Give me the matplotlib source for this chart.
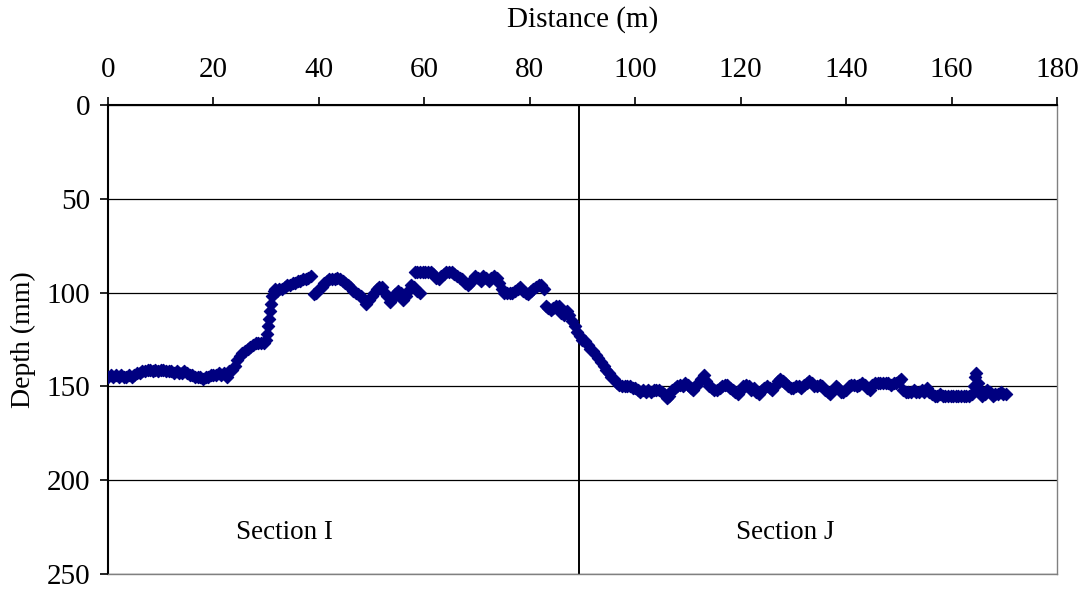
import numpy as np
import matplotlib
matplotlib.use("Agg")
import matplotlib.pyplot as plt

plt.rcParams['font.family'] = ['Liberation Serif', 'DejaVu Serif']

# survey profile: distance along the line (m) and depth below datum (mm)
distance = [
    # flat start
    0, 0.5, 1, 1.5, 2, 2.5, 3, 3.5, 4, 4.5, 5, 5.5, 6, 6.5, 7, 7.5, 8, 8.5, 9, 9.5,
    10, 10.5, 11, 11.5, 12, 12.5, 13, 13.5, 14, 14.5, 15, 15.5, 16, 16.5, 17, 17.5,
    18, 18.5, 19, 19.5, 20, 20.5, 21, 21.5, 22, 22.5, 23,
    # rise
    23.5, 24, 24.5, 25, 25.5, 26, 26.5, 27, 27.5, 28, 28.5, 29, 29.5, 30, 30.2, 30.4,
    30.6, 30.8, 31, 31.2, 31.4, 31.7, 32, 32.5, 33, 33.5, 34, 34.5, 35, 35.5, 36, 36.5,
    37, 37.5, 38, 38.5,
    # hump
    39, 39.5, 40, 40.5, 41, 41.5, 42, 42.5, 43, 43.5, 44, 44.5, 45, 45.5, 46, 46.5,
    47, 47.5, 48, 48.5, 49, 49.5, 50, 50.5, 51, 51.5, 52, 52.5, 53, 53.5, 54, 54.5,
    55, 55.5, 56, 56.5, 57, 57.5, 58, 58.6, 59.1,
    # crest
    58.2, 58.7, 59.2, 59.7, 60.2, 60.7, 61.2, 61.7, 62.2, 62.7, 63.2, 63.7, 64.2, 64.7,
    65.2, 65.7, 66.2, 66.7, 67.2, 67.7, 68.2, 68.7, 69.2, 69.7, 70.2, 70.7, 71.2, 71.7,
    72.2, 72.7, 73.2, 73.7, 74.2, 74.7, 75.2, 75.7, 76.2, 76.7, 77.2, 77.7, 78.2, 78.7,
    79.2, 79.7, 80.2, 80.7, 81.2, 81.7, 82.2, 82.7,
    # fall
    83, 83.5, 84, 84.5, 85, 85.5, 86, 86.5, 87, 87.5, 88, 88.5, 89, 89.5, 90, 90.5,
    91, 91.5, 92, 92.5, 93, 93.5, 94, 94.5, 95, 95.5, 96, 96.5, 97, 97.5,
    # section J flat
    98, 98.5, 99, 99.5, 100, 100.5, 101, 101.5, 102, 102.5, 103, 103.5, 104, 104.5,
    105, 105.5, 106, 106.5, 107, 107.5, 108, 108.5, 109, 109.5, 110, 110.5, 111, 111.5,
    112, 112.5, 113, 113.5, 114, 114.5, 115, 115.5, 116, 116.5, 117, 117.5, 118, 118.5,
    119, 119.5, 120, 120.5, 121, 121.5, 122, 122.5, 123, 123.5, 124, 124.5, 125, 125.5,
    126, 126.5, 127, 127.5, 128, 128.5, 129, 129.5, 130, 130.5, 131, 131.5, 132, 132.5,
    133, 133.5, 134, 134.5, 135, 135.5, 136, 136.5, 137, 137.5, 138, 138.5, 139, 139.5,
    140, 140.5, 141, 141.5, 142, 142.5, 143, 143.5, 144, 144.5, 145, 145.5, 146, 146.5,
    147, 147.5, 148, 148.5, 149, 149.5, 150, 150.5,
    # end
    150.8, 151.3, 151.8, 152.3, 152.8, 153.3, 153.8, 154.3, 154.8, 155.3, 155.8, 156.3,
    156.8, 157.3, 157.8, 158.3, 158.8, 159.3, 159.8, 160.3, 160.8, 161.3, 161.8, 162.3,
    162.8, 163.3, 163.8, 164.2, 164.5, 164.7, 165, 165.3, 165.8, 166.3, 166.8, 167.3,
    167.8, 168.3, 168.8, 169.3, 169.8, 170.3,
]

depth = [
    145, 144, 145, 144, 145, 144, 145, 145, 144, 145, 144, 143, 143, 142, 142, 141, 141, 142, 141, 142,
    141, 141, 142, 142, 142, 143, 142, 143, 143, 142, 143, 144, 144, 145, 145, 145,
    146, 145, 145, 144, 144, 144, 143, 144, 143, 145, 142,
    141, 139, 136, 134, 132, 131, 130, 129, 128, 127, 127, 127, 127, 125, 122, 118,
    114, 110, 106, 102, 99, 98, 99, 98, 98, 97, 96, 96, 95, 95, 94, 94,
    93, 93, 92, 91,
    101, 100, 98, 97, 95, 94, 93, 93, 93, 92, 93, 94, 95, 96, 97, 99,
    100, 101, 102, 104, 106, 104, 102, 100, 98, 97, 97, 100, 102, 105, 103, 101,
    99, 100, 104, 102, 99, 96, 97, 99, 100,
    89, 89, 89, 89, 89, 89, 89, 90, 92, 93, 91, 90, 89, 89,
    89, 90, 91, 92, 93, 95, 96, 95, 93, 91, 92, 94, 91, 92,
    94, 92, 91, 92, 95, 98, 100, 100, 100, 100, 99, 98, 97, 99,
    100, 101, 99, 98, 97, 96, 96, 98,
    107, 108, 109, 108, 107, 107, 111, 112, 110, 112, 115, 118, 121, 123, 125, 126,
    128, 130, 131, 133, 135, 137, 139, 141, 143, 145, 146, 148, 149, 150,
    150, 150, 150, 151, 151, 152, 153, 152, 153, 152, 153, 152, 152, 152,
    153, 154, 156, 155, 152, 151, 150, 149, 150, 148, 149, 151, 152, 150,
    148, 146, 144, 147, 150, 151, 152, 152, 151, 150, 149, 149, 151, 152,
    153, 154, 152, 150, 149, 150, 152, 151, 153, 154, 152, 151, 150, 151,
    152, 150, 147, 146, 147, 148, 150, 151, 151, 150, 150, 151, 149, 148,
    147, 148, 150, 150, 149, 150, 152, 153, 154, 152, 150, 151, 153, 153,
    152, 150, 149, 149, 150, 149, 148, 149, 151, 152, 149, 148, 148, 148,
    148, 148, 148, 149, 148, 148, 147, 146,
    152, 153, 153, 153, 152, 153, 153, 152, 153, 151, 153, 154,
    155, 155, 154, 155, 155, 155, 155, 155, 155, 155, 155, 155,
    155, 155, 154, 150, 145, 143, 148, 152, 155, 154, 152, 153,
    155, 154, 154, 153, 154, 154,
]

section_boundary = 89.3
section_labels = ["Section I", "Section J"]
section_label_x = [33.5, 128.5]
section_label_y = 228

x_ticks = np.arange(0, 181, 20)
y_ticks = np.arange(0, 251, 50)

fig = plt.figure(figsize=(10.84, 5.90), dpi=100)
ax = fig.add_axes([0.0996, 0.0271, 0.8755, 0.7949])

ax.scatter(distance, depth, marker='D', s=6.3 ** 2, color='#000080',
           edgecolors='#000080', linewidths=0.8, zorder=3)

ax.axvline(section_boundary, color='black', lw=1.4, zorder=2)
for lab, lx in zip(section_labels, section_label_x):
    ax.text(lx, section_label_y, lab, ha='center', va='center', fontsize=19.5)

ax.set_xlim(0, 180)
ax.set_ylim(250, 0)
ax.set_xticks(x_ticks)
ax.set_yticks(y_ticks)
ax.xaxis.tick_top()
ax.xaxis.set_label_position('top')
ax.tick_params(axis='both', direction='out', length=6, width=1.2, labelsize=21,
               color='black')
ax.tick_params(axis='x', pad=10)
ax.tick_params(axis='y', pad=7)
ax.set_xlabel("Distance (m)", fontsize=21, labelpad=22)
ax.set_ylabel("Depth (mm)", fontsize=20, labelpad=7)

ax.yaxis.grid(True, color='black', lw=0.9)
ax.set_axisbelow(True)
for side in ['top', 'left']:
    ax.spines[side].set_color('black')
    ax.spines[side].set_linewidth(1.5)
for side in ['right', 'bottom']:
    ax.spines[side].set_color('#808080')
    ax.spines[side].set_linewidth(1.0)

fig.savefig("out.png", dpi=100)
